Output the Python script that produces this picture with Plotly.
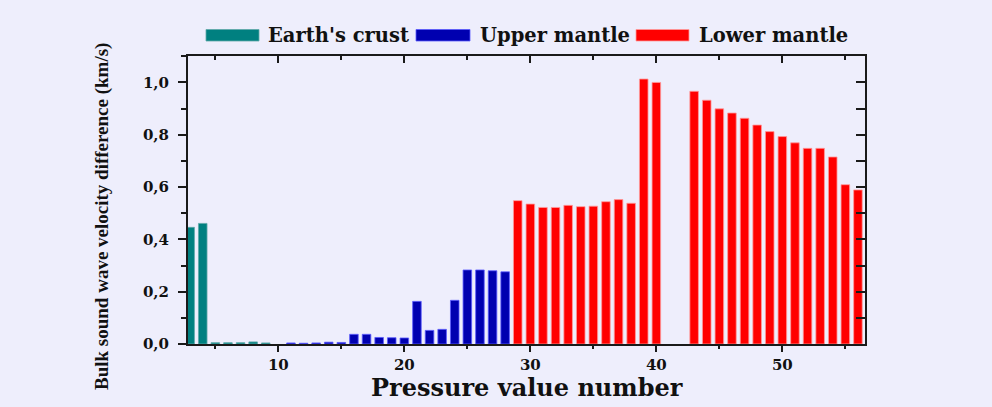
import plotly.graph_objects as go

# ---- data ----
crust_x = [3, 4, 5, 6, 7, 8, 9]
crust_y = [0.446, 0.461, 0.005, 0.005, 0.005, 0.008, 0.004]

upper_x = [11, 12, 13, 14, 15, 16, 17, 18, 19, 20, 21, 22, 23, 24, 25, 26, 27, 28]
upper_y = [0.004, 0.003, 0.004, 0.007, 0.006, 0.037, 0.037, 0.025, 0.024, 0.023,
           0.163, 0.052, 0.056, 0.167, 0.283, 0.283, 0.280, 0.276]

lower_x = [29, 30, 31, 32, 33, 34, 35, 36, 37, 38, 39, 40,
           43, 44, 45, 46, 47, 48, 49, 50, 51, 52, 53, 54, 55, 56]
lower_y = [0.548, 0.535, 0.522, 0.522, 0.530, 0.525, 0.527, 0.544, 0.552, 0.538, 1.013, 1.000,
           0.966, 0.932, 0.899, 0.883, 0.863, 0.837, 0.812, 0.793, 0.769, 0.748, 0.748, 0.715, 0.609, 0.589]

series_names = ["Earth's crust", "Upper mantle", "Lower mantle"]
series_colors = ["#008080", "#0000B0", "#FF0000"]
edge_colors = ["#5fa8a8", "#5a5aff", "#ff9a9a"]

BG = "#EEEEFC"
AX = "#1a1a1a"
W, H = 992, 407
L, R, T, B = 188, 127, 56, 63
PW, PH = W - L - R, H - T - B


def px_x(p):
    return (p - L) / PW


def px_y(p):
    return (H - B - p) / PH


fig = go.Figure()
for xs, ys, name, col, ec in zip([crust_x, upper_x, lower_x], [crust_y, upper_y, lower_y],
                                 series_names, series_colors, edge_colors):
    fig.add_trace(go.Bar(x=xs, y=ys, name=name, width=0.68,
                         marker=dict(color=col, line=dict(color=ec, width=0.8)),
                         showlegend=False))

# empty trace to hold the mirrored (top/right) axes
fig.add_trace(go.Scatter(x=[], y=[], xaxis="x2", yaxis="y2", showlegend=False))

serif = "DejaVu Serif"
xr = [2.83, 56.56]
yr = [0, 1.101]

fig.update_layout(
    width=W, height=H, autosize=False,
    margin=dict(l=L, r=R, t=T, b=B, pad=0),
    paper_bgcolor=BG, plot_bgcolor=BG,
    separators=",.",
    barmode="overlay",
    xaxis=dict(range=xr, tick0=0, dtick=10, ticks="outside", ticklen=6, tickwidth=1.5,
               tickcolor=AX, showline=True, linecolor=AX, linewidth=2, showgrid=False,
               zeroline=False, tickfont=dict(family=serif, size=15, color="#111", weight="bold"),
               minor=dict(dtick=5, tick0=0, ticks="outside", ticklen=3, tickcolor=AX, tickwidth=1.5)),
    yaxis=dict(range=yr, tick0=0, dtick=0.2, tickformat=".1f", ticks="outside", ticklen=8,
               tickwidth=1.5, tickcolor=AX, showline=True, linecolor=AX, linewidth=2,
               showgrid=False, zeroline=False, ticklabelstandoff=6,
               tickfont=dict(family=serif, size=15, color="#111", weight="bold"),
               minor=dict(dtick=0.1, tick0=0, ticks="outside", ticklen=5, tickcolor=AX, tickwidth=1.5)),
    xaxis2=dict(range=xr, overlaying="x", side="top", tick0=0, dtick=10, ticks="inside",
                ticklen=7, tickwidth=1.5, tickcolor=AX, showline=True, linecolor=AX, linewidth=2,
                showgrid=False, zeroline=False, showticklabels=False,
                minor=dict(dtick=5, tick0=0, ticks="inside", ticklen=4, tickcolor=AX, tickwidth=1.5)),
    yaxis2=dict(range=yr, overlaying="y", side="right", tick0=0, dtick=0.1, ticks="inside",
                ticklen=9, tickwidth=1.5, tickcolor=AX, showline=True, linecolor=AX, linewidth=2,
                showgrid=False, zeroline=False, showticklabels=False),
)

# axis titles
fig.add_annotation(text="Pressure value number", xref="paper", yref="paper",
                   x=px_x(527), y=px_y(387), xanchor="center", yanchor="middle", showarrow=False,
                   font=dict(family=serif, size=24, color="#111", weight="bold"))
fig.add_annotation(text="Bulk sound wave velocity difference (km/s)", xref="paper", yref="paper",
                   x=px_x(102), y=px_y(217), xanchor="center", yanchor="middle", showarrow=False,
                   textangle=-90,
                   font=dict(family="Liberation Serif", size=19, color="#111", weight="bold"))

# custom legend (wide swatches as in the reference)
swatch_px = [(206, 259), (416, 470), (636, 689)]
text_px = [266, 478, 697]
for (x0, x1), tx, name, col, ec in zip(swatch_px, text_px, series_names, series_colors, edge_colors):
    fig.add_shape(type="rect", xref="paper", yref="paper", x0=px_x(x0), x1=px_x(x1),
                  y0=px_y(41), y1=px_y(29.5), fillcolor=col, line=dict(color=ec, width=0.8))
    fig.add_annotation(text=name, xref="paper", yref="paper", x=px_x(tx), y=px_y(35.5),
                       xanchor="left", yanchor="middle", showarrow=False,
                       font=dict(family=serif, size=19.5, color="#111", weight="bold"))

fig.write_html("out.html")
